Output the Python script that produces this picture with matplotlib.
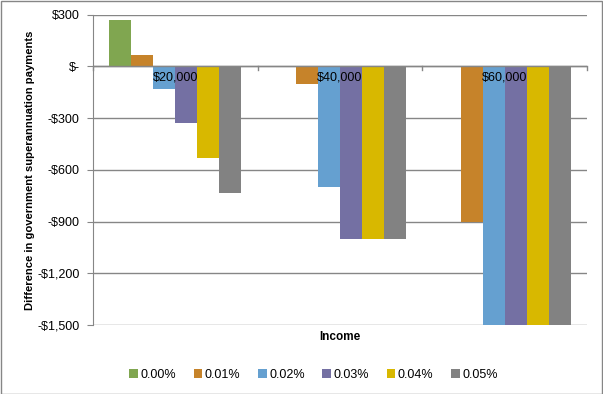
import matplotlib
matplotlib.use("Agg")
import matplotlib.pyplot as plt
import numpy as np
from matplotlib.patches import Rectangle

categories = ["$20,000", "$40,000", "$60,000"]
series_names = ["0.00%", "0.01%", "0.02%", "0.03%", "0.04%", "0.05%"]
values = {
    "0.00%": [270, 0, 0],
    "0.01%": [65, -100, -900],
    "0.02%": [-130, -700, -1500],
    "0.03%": [-330, -1000, -1500],
    "0.04%": [-530, -1000, -1500],
    "0.05%": [-735, -1000, -1500],
}
colors = ["#80A650", "#C6832A", "#65A0D0", "#7470A3", "#D8B800", "#828282"]
yticks = [300, 0, -300, -600, -900, -1200, -1500]
ytick_labels = ["$300", "$-", "-$300", "-$600", "-$900", "-$1,200", "-$1,500"]

plt.rcParams['font.family'] = ['Liberation Sans', 'DejaVu Sans']

fig = plt.figure(figsize=(6.03, 3.94), dpi=100)
W, H = 603, 394
ax = fig.add_axes([93 / W, 1 - 325 / H, (587 - 93) / W, (325 - 14.7) / H])

x = np.arange(len(categories))
bw = 1 / 7.5
for i, name in enumerate(series_names):
    offs = (i - 2.5) * bw
    ax.bar(x + offs, values[name], width=bw, color=colors[i], label=name, zorder=3)

ax.set_xlim(-0.5, 2.5)
ax.set_ylim(-1500, 300)
ax.set_yticks(yticks)
ax.set_yticklabels(ytick_labels, fontsize=9)
ax.yaxis.grid(True, color="#868686", linewidth=1, zorder=0)
ax.tick_params(axis="y", length=4, color="#868686", pad=5.5)
for s in ["top", "right", "bottom"]:
    ax.spines[s].set_visible(False)
ax.spines["left"].set_color("#868686")
ax.spines["left"].set_zorder(4)

# x axis at zero
ax.axhline(0, color="#868686", linewidth=1, zorder=4)
ax.set_xticks([])
for b in [-0.5, 0.5, 1.5, 2.5]:
    ax.plot([b, b], [0, -22], color="#868686", linewidth=1, zorder=4, clip_on=False)
for xi, c in zip(x, categories):
    ax.text(xi, -30, c, ha="center", va="top", fontsize=9, zorder=5)

ax.set_ylabel("Difference in government superannuation payments", fontsize=8.1,
              fontweight="bold", labelpad=2)
fig.text((93 + 587) / 2 / W, 1 - 337 / H, "Income", ha="center", va="center",
         fontsize=8.5, fontweight="bold")

fig.legend(loc="center", bbox_to_anchor=(0.52, 1 - 375 / H), ncol=6, frameon=False,
           fontsize=9, handlelength=0.7, handleheight=0.7, handletextpad=0.2,
           columnspacing=1.4)

fig.patches.append(Rectangle((0.5 / W, 0.5 / H), 1 - 1.5 / W, 1 - 1.5 / H,
                             transform=fig.transFigure, fill=False,
                             edgecolor="#868686", linewidth=1))

fig.savefig("out.png", dpi=100, facecolor="white")
